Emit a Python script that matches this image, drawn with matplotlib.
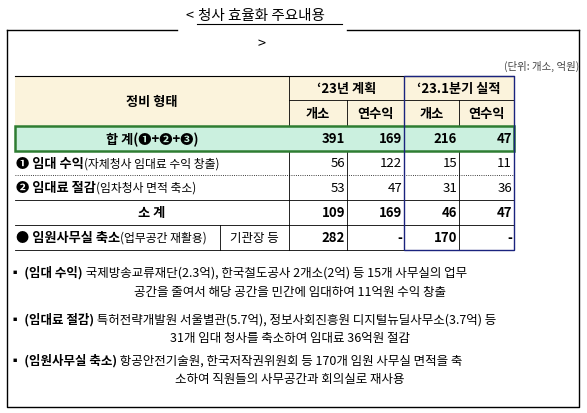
import matplotlib
matplotlib.use("Agg")
import matplotlib.pyplot as plt
from matplotlib.patches import Rectangle

plt.rcParams['font.family'] = ['Noto Sans CJK KR', 'DejaVu Sans']

title = "청사 효율화 주요내용"
unit = "(단위: 개소, 억원)"
col_groups = ["‘23년 계획", "‘23.1분기 실적"]
sub_cols = ["개소", "연수익", "개소", "연수익"]
row_labels = ["합 계(❶+❷+❸)", "❶ 임대 수익(자체청사 임대료 수익 창출)", "❷ 임대료 절감(임차청사 면적 축소)", "소 계", "● 임원사무실 축소(업무공간 재활용)"]
row_values = [["391", "169", "216", "47"],
              ["56", "122", "15", "11"],
              ["53", "47", "31", "36"],
              ["109", "169", "46", "47"],
              ["282", "-", "170", "-"]]
bold_rows = [True, False, False, True, True]
notes = [("▪ (임대 수익)", " 국제방송교류재단(2.3억), 한국철도공사 2개소(2억) 등 15개 사무실의 업무", "공간을 줄여서 해당 공간을 민간에 임대하여 11억원 수익 창출"),
         ("▪ (임대료 절감)", " 특허전략개발원 서울별관(5.7억), 정보사회진흥원 디지털뉴딜사무소(3.7억) 등", "31개 임대 청사를 축소하여 임대료 36억원 절감"),
         ("▪ (임원사무실 축소)", " 항공안전기술원, 한국저작권위원회 등 170개 임원 사무실 면적을 축", "소하여 직원들의 사무공간과 회의실로 재사용")]

fig = plt.figure(figsize=(5.87, 4.14), dpi=100)
ax = fig.add_axes([0, 0, 1, 1])
ax.set_xlim(0, 587); ax.set_ylim(414, 0); ax.axis('off')

# title & box
ax.text(194, 16, "<", fontsize=10.5, ha='right', va='center')
ax.text(198, 16, title, fontsize=10.5, ha='left', va='center')
ax.plot([197, 342], [25, 25], color='black', lw=0.8)
ax.plot([7, 177], [31, 31], color='black', lw=1)
ax.plot([347, 579], [31, 31], color='black', lw=1)
ax.plot([7, 7, 579, 579], [31, 408, 408, 31], color='black', lw=1)
ax.text(262, 44, ">", fontsize=10.5, ha='center', va='center')
ax.text(579, 66, unit, fontsize=7.5, ha='right', va='center', color='#444')

xs = [15, 289, 347, 404, 459, 514]
ax.add_patch(Rectangle((15, 77), 499, 50, facecolor='#FBF3DC', edgecolor='none'))
ax.text(152, 102, "정비 형태", fontsize=9.5, ha='center', va='center', weight='bold')
for i, g in enumerate(col_groups):
    ax.text((xs[1+2*i]+xs[3+2*i])/2, 89, g, fontsize=9.5, ha='center', va='center', weight='bold')
for i, s in enumerate(sub_cols):
    ax.text((xs[1+i]+xs[2+i])/2, 114, s, fontsize=9.5, ha='center', va='center', weight='bold')
ax.plot([15, 514], [77, 77], color='black', lw=0.8)
ax.plot([289, 514], [101, 101], color='black', lw=0.6)
for x in [347, 459]:
    ax.plot([x, x], [101, 251], color='black', lw=0.6)
ax.plot([289, 289], [77, 251], color='black', lw=0.6)

ys = [127, 152, 176, 201, 226, 251]
ax.add_patch(Rectangle((15, 127), 499, 25, facecolor='#CBF0DF', edgecolor='#2E7D32', lw=1.8, zorder=3))
for r in range(5):
    yc = (ys[r]+ys[r+1])/2
    lab = row_labels[r]
    if r in (0, 3):
        ax.text(152, yc, lab, fontsize=9.5, ha='center', va='center', weight='bold', zorder=4)
    else:
        head, _, rest = lab.partition('(')
        t = ax.text(16, yc, head, fontsize=9.5, ha='left', va='center', weight='bold', zorder=4)
        fig.canvas.draw()
        bb = t.get_window_extent().transformed(ax.transData.inverted())
        ax.text(bb.x1, yc, '(' + rest, fontsize=8.5, ha='left', va='center', zorder=4)
    for c in range(4):
        ax.text(xs[2+c]-2, yc, row_values[r][c], fontsize=9.5, ha='right', va='center',
                weight='bold' if bold_rows[r] else 'normal', zorder=4)
ax.text(254, (226+251)/2, "기관장 등", fontsize=9, ha='center', va='center')
ax.plot([220, 220], [226, 251], color='black', lw=0.6)
ax.plot([15, 514], [176, 176], color='black', lw=0.6, ls=':')
for y in [201, 226, 251]:
    ax.plot([15, 514], [y, y], color='black', lw=0.6)
ax.add_patch(Rectangle((404, 77), 110, 174, facecolor='none', edgecolor='#1a237e', lw=1, zorder=5))

yl = [273, 293, 320, 339, 361, 380]
for i, (b, rest, l2) in enumerate(notes):
    t = ax.text(9, yl[2*i], b, fontsize=9, ha='left', va='center', weight='bold')
    fig.canvas.draw()
    bb = t.get_window_extent().transformed(ax.transData.inverted())
    ax.text(bb.x1, yl[2*i], rest, fontsize=9, ha='left', va='center')
    ax.text(290, yl[2*i+1], l2, fontsize=9, ha='center', va='center')

fig.savefig("out.png", dpi=100)
